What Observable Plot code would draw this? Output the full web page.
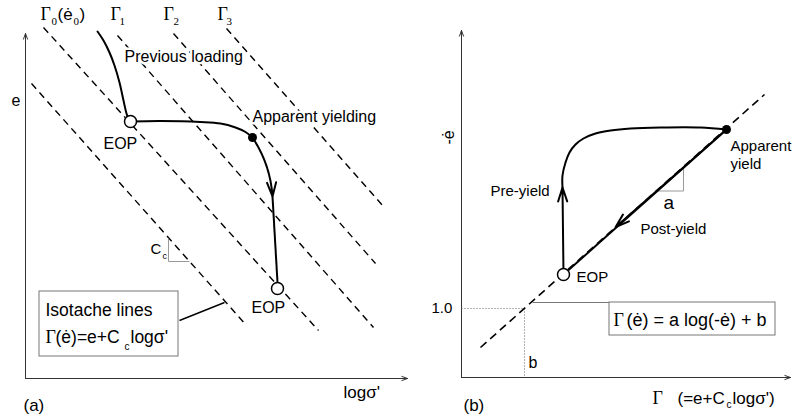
<!DOCTYPE html>
<html><head><meta charset="utf-8">
<script src="https://cdn.jsdelivr.net/npm/d3@7"></script>
<script src="https://cdn.jsdelivr.net/npm/@observablehq/plot@0.6"></script>
<style>
html,body{margin:0;padding:0;background:#fff;}
#chart{display:flex;width:792px;height:418px;}
#chart svg{overflow:visible;background:transparent;}
</style></head><body><div id="chart"></div>
<script>
const SANS = "Liberation Sans, Arial, Helvetica, sans-serif";
const SERIF = "Liberation Serif, Times New Roman, serif";

// ---------- Panel (a): x = log σ', y = e (relative units, origin at axis corner) ----------
const axesA = [
  {x1: 0, y1: 0, x2: 0, y2: 345},
  {x1: 0, y1: 0, x2: 382, y2: 0}
];
const isotachesA = [
  {name: "Γ-1", x1: 6,   y1: 295, x2: 221, y2: 53},
  {name: "Γ0",  x1: 18,  y1: 351, x2: 293, y2: 48},
  {name: "Γ1",  x1: 92,  y1: 343, x2: 348, y2: 51},
  {name: "Γ2",  x1: 148, y1: 345, x2: 350, y2: 115},
  {name: "Γ3",  x1: 201, y1: 350, x2: 358, y2: 172}
];
const previousLoading = [
  {x: 72, y: 347}, {x: 78, y: 338}, {x: 84, y: 326}, {x: 89, y: 313},
  {x: 94, y: 296}, {x: 98, y: 278}, {x: 101, y: 265}, {x: 104, y: 257}
];
const reloading = [
  {x: 105, y: 257}, {x: 135, y: 257.5}, {x: 175, y: 256.5}, {x: 195, y: 255},
  {x: 210, y: 251}, {x: 220, y: 246.5}, {x: 227, y: 241}
];
const yieldingArrowA = [{x1: 227, y1: 241, x2: 247, y2: 182}];
const compressionA = [{x1: 247, y1: 182, x2: 252, y2: 96}];
const eopA = [{x: 105, y: 257}, {x: 252, y: 90}];
const yieldA = [{x: 227, y: 241}];
const ccTriangle = [
  {x1: 143, y1: 140, x2: 143, y2: 117},
  {x1: 143, y1: 117, x2: 164, y2: 117}
];
const boxA = [{x1: 14, x2: 153, y1: 22, y2: 87}];
const leaderA = [{x1: 154, y1: 58, x2: 199, y2: 76}];

const haloTextA = [
  {text: "Previous loading", x: 99, y: 322, size: 16},
  {text: "Apparent yielding", x: 227, y: 262, size: 16},
  {text: "EOP", x: 78, y: 235, size: 16},
  {text: "EOP", x: 226, y: 71, size: 16}
];
const sansTextA = [
  {text: "e", x: -14, y: 278, size: 16},
  {text: "logσ'", x: 318, y: -14, size: 17},
  {text: "(a)", x: -2, y: -27, size: 17},
  {text: "Isotache lines", x: 20, y: 68, size: 17.5},
  {text: "(ė)=e+C", x: 30, y: 41, size: 17.5},
  {text: "logσ'", x: 105, y: 41, size: 17.5},
  {text: "C", x: 125, y: 129, size: 15},
  {text: "(ė", x: 32, y: 364, size: 17},
  {text: ")", x: 54, y: 364, size: 17}
];
const sansSubA = [
  {text: "c", x: 99, y: 32, size: 10},
  {text: "c", x: 137, y: 122, size: 9}
];
const serifTextA = [
  {text: "Γ", x: 15, y: 364, size: 18},
  {text: "Γ", x: 85, y: 364, size: 18},
  {text: "Γ", x: 138, y: 364, size: 18},
  {text: "Γ", x: 192, y: 364, size: 18},
  {text: "Γ", x: 20, y: 41, size: 18}
];
const serifSubA = [
  {text: "0", x: 26, y: 357, size: 11},
  {text: "0", x: 48, y: 357, size: 11},
  {text: "1", x: 94, y: 357, size: 11},
  {text: "2", x: 148, y: 357, size: 11},
  {text: "3", x: 201, y: 357, size: 11}
];

// ---------- Panel (b): x = Γ, y = log(-ė) (relative units, origin at axis corner) ----------
const axesB = [
  {x1: 0, y1: 0, x2: 0, y2: 347},
  {x1: 0, y1: 0, x2: 329, y2: 0}
];
const referenceLineB = [{x1: 19, y1: 30, x2: 303, y2: 283}];
const postYieldB = [{x1: 265, y1: 248, x2: 102, y2: 103}];
const arrowsB = [
  {x1: 102, y1: 103, x2: 101, y2: 190},
  {x1: 265, y1: 248, x2: 154, y2: 150.3}
];
const preYieldB = [
  {x: 101, y: 190}, {x: 101, y: 202}, {x: 104, y: 215}, {x: 108, y: 225},
  {x: 114, y: 233}, {x: 122, y: 239}, {x: 134, y: 244}, {x: 149, y: 247},
  {x: 169, y: 249}, {x: 199, y: 250}, {x: 239, y: 250}, {x: 265, y: 248}
];
const dottedB = [
  {x1: 0, y1: 69, x2: 63, y2: 69},
  {x1: 63, y1: 69, x2: 63, y2: 0}
];
const aTriangle = [
  {x1: 195, y1: 186.5, x2: 222, y2: 186.5},
  {x1: 222, y1: 186.5, x2: 222, y2: 210}
];
const boxB = [{x1: 148, x2: 314, y1: 42, y2: 75}];
const leaderB = [{x1: 71, y1: 75, x2: 148, y2: 75}];
const eopB = [{x: 102, y: 103}];
const yieldB = [{x: 265, y: 248}];

const sansTextB = [
  {text: "1.0", x: -30, y: 69, size: 15},
  {text: "b", x: 67, y: 15, size: 16},
  {text: "EOP", x: 115, y: 100, size: 15},
  {text: "Pre-yield", x: 29, y: 186.5, size: 15},
  {text: "Post-yield", x: 179, y: 148, size: 15},
  {text: "Apparent", x: 269, y: 231.5, size: 15},
  {text: "yield", x: 269, y: 213, size: 15},
  {text: "a", x: 202, y: 175, size: 19},
  {text: "(b)", x: 2, y: -28, size: 17},
  {text: "(=e+C", x: 216, y: -21, size: 17},
  {text: "logσ')", x: 271, y: -21, size: 17},
  {text: "(ė) = a log(-ė) + b", x: 165, y: 57, size: 18}
];
const sansSubB = [{text: "c", x: 265, y: -27, size: 10}];
const serifTextB = [
  {text: "Γ", x: 191, y: -21, size: 18},
  {text: "Γ", x: 152, y: 57, size: 18}
];
const yLabelB = [{text: "-ė", x: -13, y: 240}];

function txt(data, family, extra = {}) {
  return Plot.text(data, {x: "x", y: "y", text: "text", fontSize: "size", textAnchor: "start",
    fontFamily: family, fill: "black", ...extra});
}
function seg(data, opts) {
  return Plot.link(data, {x1: "x1", y1: "y1", x2: "x2", y2: "y2", ...opts});
}

const panelA = Plot.plot({
  width: 400, height: 418, margin: 0,
  x: {type: "linear", domain: [-25, 375], axis: null},
  y: {type: "linear", domain: [-40, 378], axis: null},
  style: {overflow: "visible", background: "transparent"},
  marks: [
    Plot.arrow(axesA, {x1: "x1", y1: "y1", x2: "x2", y2: "y2", stroke: "#333", strokeWidth: 1, headLength: 9, headAngle: 40}),
    seg(isotachesA, {stroke: "black", strokeWidth: 1.4, strokeDasharray: "7,5"}),
    seg(ccTriangle, {stroke: "#999", strokeWidth: 1}),
    Plot.rect(boxA, {x1: "x1", x2: "x2", y1: "y1", y2: "y2", fill: "white", stroke: "#777", strokeWidth: 1}),
    seg(leaderA, {stroke: "black", strokeWidth: 1.4}),
    Plot.line(previousLoading, {x: "x", y: "y", curve: "catmull-rom", stroke: "black", strokeWidth: 2}),
    Plot.line(reloading, {x: "x", y: "y", curve: "catmull-rom", stroke: "black", strokeWidth: 2}),
    Plot.arrow(yieldingArrowA, {x1: "x1", y1: "y1", x2: "x2", y2: "y2", bend: 15, stroke: "black", strokeWidth: 2, headLength: 11, headAngle: 36}),
    seg(compressionA, {stroke: "black", strokeWidth: 2}),
    txt(haloTextA, SANS, {stroke: "white", strokeWidth: 5}),
    txt(sansTextA, SANS),
    txt(sansSubA, SANS),
    txt(serifTextA, SERIF),
    txt(serifSubA, SERIF),
    Plot.dot(eopA, {x: "x", y: "y", r: 6, fill: "white", stroke: "black", strokeWidth: 1.5}),
    Plot.dot(yieldA, {x: "x", y: "y", r: 4.5, fill: "black", stroke: "none"})
  ]
});

const panelB = Plot.plot({
  width: 392, height: 418, margin: 0,
  x: {type: "linear", domain: [-61, 331], axis: null},
  y: {type: "linear", domain: [-41, 377], axis: null},
  style: {overflow: "visible", background: "transparent"},
  marks: [
    Plot.arrow(axesB, {x1: "x1", y1: "y1", x2: "x2", y2: "y2", stroke: "#333", strokeWidth: 1, headLength: 9, headAngle: 40}),
    seg(dottedB, {stroke: "#666", strokeWidth: 1, strokeDasharray: "1,2"}),
    seg(referenceLineB, {stroke: "black", strokeWidth: 1.6, strokeDasharray: "8,5"}),
    seg(aTriangle, {stroke: "#999", strokeWidth: 1}),
    seg(leaderB, {stroke: "#777", strokeWidth: 1}),
    Plot.rect(boxB, {x1: "x1", x2: "x2", y1: "y1", y2: "y2", fill: "white", stroke: "#777", strokeWidth: 1}),
    seg(postYieldB, {stroke: "black", strokeWidth: 2}),
    Plot.line(preYieldB, {x: "x", y: "y", curve: "catmull-rom", stroke: "black", strokeWidth: 2}),
    Plot.arrow(arrowsB, {x1: "x1", y1: "y1", x2: "x2", y2: "y2", stroke: "black", strokeWidth: 2, headLength: 11, headAngle: 36}),
    txt(sansTextB, SANS),
    txt(sansSubB, SANS),
    txt(serifTextB, SERIF),
    Plot.text(yLabelB, {x: "x", y: "y", text: "text", rotate: -90, fontSize: 16, fontFamily: SANS, fill: "black"}),
    Plot.dot(eopB, {x: "x", y: "y", r: 6, fill: "white", stroke: "black", strokeWidth: 1.5}),
    Plot.dot(yieldB, {x: "x", y: "y", r: 4.5, fill: "black", stroke: "none"})
  ]
});

document.getElementById("chart").append(panelA, panelB);
</script></body></html>
